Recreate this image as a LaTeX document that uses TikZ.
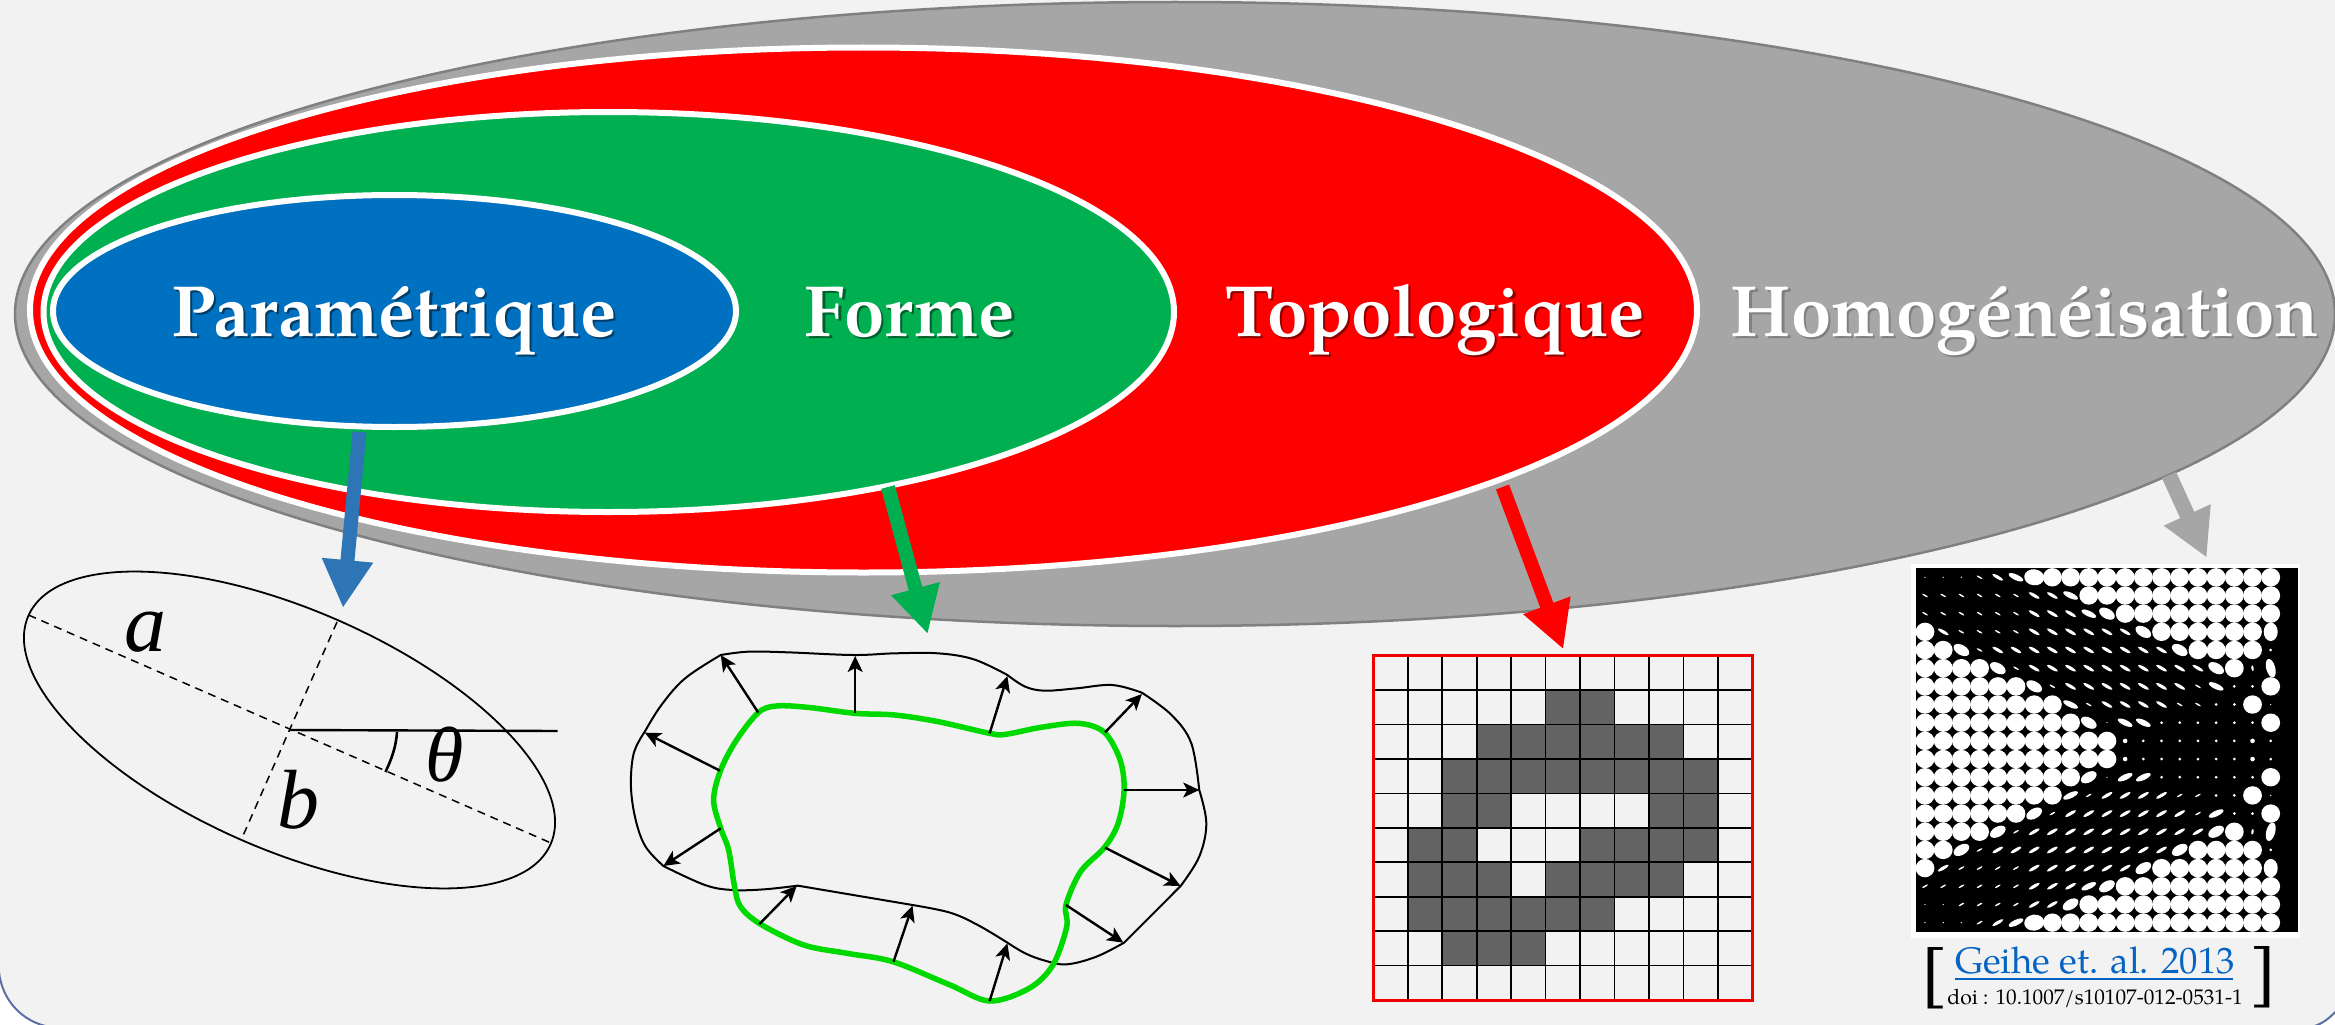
\documentclass[tikz,border=0pt]{standalone}
\usepackage{fontspec}
\setmainfont{TeX Gyre Pagella}
\newfontfamily\symfont[ItalicFont=Liberation Serif Italic]{Liberation Serif}
\usetikzlibrary{shapes.geometric,arrows.meta}
\definecolor{bgc}{HTML}{F2F2F2}
\definecolor{grayc}{HTML}{A6A6A6}
\definecolor{redc}{HTML}{FF0000}
\definecolor{greenc}{HTML}{00B050}
\definecolor{bluec}{HTML}{0070C0}
\definecolor{barrow}{HTML}{2E75B6}
\definecolor{linkc}{HTML}{0563C1}
\definecolor{contour}{HTML}{00D900}
\definecolor{cellc}{HTML}{636363}
\definecolor{gridred}{HTML}{EE0000}
\definecolor{slideedge}{HTML}{5B6FA5}
\newcommand{\shtxt}[2]{\makebox[0pt][l]{\raisebox{-2.2pt}{\hspace{2.2pt}\textcolor{#1}{#2}}}#2}
\tikzset{
  zone/.style={ellipse,draw=white,line width=6pt,inner sep=0pt,outer sep=0pt},
  zlabel/.style={text=white,font=\fontsize{72.5}{72.5}\selectfont\bfseries,inner sep=0pt,anchor=base},
  hz/.style={x radius=.7pt,y radius=.7pt},
  hd/.style={x radius=1.5pt,y radius=1.5pt},
  hD/.style={x radius=2.3pt,y radius=2.3pt},
  hO/.style={x radius=9.4pt,y radius=9.2pt},
  hQ/.style={x radius=10pt,y radius=8pt,rotate=\hs*8},
  hL/.style={x radius=8.6pt,y radius=5pt,rotate=\hs*30},
  hM/.style={x radius=8pt,y radius=2.8pt,rotate=\hs*25},
  hS/.style={x radius=6.3pt,y radius=1.6pt,rotate=\hs*30},
  hT/.style={x radius=3.3pt,y radius=.8pt,rotate=\hs*30},
  hV/.style={x radius=4.5pt,y radius=9.5pt,rotate=0-\hs*15},
  hP/.style={x radius=7pt,y radius=9.2pt},
  hv/.style={x radius=1.2pt,y radius=2.8pt,rotate=0-\hs*10},
  symb/.style={font=\fontsize{84}{84}\selectfont\symfont\itshape,inner sep=0pt,anchor=base},
  nrm/.style={line width=2.4pt,black,-{Stealth[length=16pt,width=15pt,inset=4pt]}},
}
\begin{document}
\begin{tikzpicture}[x=1pt,y=-1pt]
\useasboundingbox (0,0) rectangle (2335,1025);
% slide background with its two visible rounded corners
\fill[bgc] (0,0) rectangle (2335,1025);
\fill[white] (-1,972) .. controls (2,1000) and (22,1022) .. (50,1027) -- (-1,1027) -- cycle;
\draw[slideedge,line width=2pt] (-1,972) .. controls (2,1000) and (22,1022) .. (50,1027);
\fill[white] (2313,1026.5) .. controls (2322,1024) and (2330,1018) .. (2337,1010) -- (2337,1027) -- cycle;
\draw[slideedge,line width=2pt] (2313,1026.5) .. controls (2322,1024) and (2330,1018) .. (2337,1010);
% nested zones
\node[ellipse,draw=gray,fill=grayc,line width=2.5pt,inner sep=0pt,outer sep=0pt,minimum width=2320pt,minimum height=624pt] (hom) at (1175,314) {};
\node[zone,fill=redc,minimum width=1667pt,minimum height=525pt] (top) at (863.5,310) {};
\node[zone,fill=greenc,minimum width=1130.5pt,minimum height=400pt] (for) at (608.75,312) {};
\node[zone,fill=bluec,minimum width=683pt,minimum height=232pt] (par) at (394.5,311) {};
\node[zlabel] (lpar) at (394,336) {\shtxt{bluec!55!black}{Paramétrique}};
\node[zlabel] (lfor) at (910,336) {\shtxt{greenc!55!black}{Forme}};
\node[zlabel] (ltop) at (1435,336) {\shtxt{redc!55!black}{Topologique}};
\node[zlabel] (lhom) at (2025,336) {\shtxt{black!50}{Homogénéisation}};
% ellipse figure
\coordinate (ec) at (289.5,730);
\draw[line width=1.8pt,rotate around={-23.6:(ec)}] (ec) ellipse [x radius=285pt,y radius=120pt];
\coordinate (ma1) at (28.5,615);
\coordinate (ma2) at (551,843);
\coordinate (mi1) at (337,622);
\coordinate (mi2) at (242,838);
\coordinate (hz) at (557.5,731);
\draw[line width=1.5pt,dash pattern=on 8pt off 6pt] (ma1) -- (ma2);
\draw[line width=1.5pt,dash pattern=on 8pt off 6pt] (mi1) -- (mi2);
\draw[line width=2.4pt] (ec) -- (hz);
\draw[line width=2.6pt] (397,732) .. controls (396,748) and (391,760) .. (385.5,772);
\node[symb] (sa) at (145,651) {a};
\node[symb] (sb) at (298,828) {b};
\node[symb,font=\fontsize{78}{78}\selectfont\symfont\itshape] (st) at (445,781) {θ};
% shape figure
\begin{scope}[shift={(610,620)},x=.39545pt,y=-.33333pt]
\draw[line width=2pt,line join=round,line cap=round]
 plot[smooth,tension=.6] coordinates {(280,105) (350,95) (450,97) (615,105) (720,100) (830,100) (920,118) (1005,165)}
 plot[smooth,tension=.6] coordinates {(1005,165) (1050,200) (1100,212) (1180,205) (1270,195) (1345,218)}
 plot[smooth,tension=.6] coordinates {(1345,218) (1420,285) (1470,370) (1490,510)}
 plot[smooth,tension=.6] coordinates {(1490,510) (1508,610) (1490,710) (1443,798)}
 -- (1300,968)
 plot[smooth,tension=.6] coordinates {(1300,968) (1230,1010) (1155,1033) (1100,1022) (1050,1000) (1005,968)}
 plot[smooth,tension=.6] coordinates {(1005,968) (930,915) (860,878) (765,855)}
 -- (475,797)
 plot[smooth,tension=.6] coordinates {(475,797) (390,808) (310,810) (240,795) (135,738)}
 plot[smooth,tension=.6] coordinates {(135,738) (90,680) (65,600) (53,500) (60,400) (88,335)}
 plot[smooth,tension=.6] coordinates {(88,335) (130,255) (190,175) (280,105)};
\draw[contour,line width=5.5pt]
 plot[smooth cycle,tension=.55] coordinates {(375,278) (420,258) (500,262) (620,280) (720,285) (830,305) (960,340) (1000,343) (1090,322) (1185,310) (1250,337) (1290,420) (1300,510) (1285,610) (1250,683) (1190,755) (1153,855) (1155,920) (1120,1035) (1060,1105) (960,1143) (860,1095) (715,1025) (600,1000) (490,975) (380,912) (330,860) (315,800) (300,690) (280,625) (262,540) (280,450) (320,360)};
\foreach \a/\b/\c/\d [count=\n] in {375/278/280/105,620/278/620/108,960/340/1005/168,1252/337/1345/222,1300/510/1490/510,1252/683/1443/798,1153/855/1298/968,960/1143/1005/970,717/1025/765/857,378/912/472/798,280/625/135/738,278/452/88/338}{
  \coordinate (ns\n) at (\a,\b);
  \coordinate (ne\n) at (\c,\d);
  \draw[nrm] (ns\n) -- (ne\n);
}
\end{scope}
% topology grid
\begin{scope}[shift={(1373.3,655.7)},x=34.45pt,y=-34.43pt]
\foreach \r/\cols in {1/{5,6},2/{3,4,5,6,7,8},3/{2,3,4,5,6,7,8,9},4/{2,3,8,9},5/{1,2,6,7,8,9},6/{1,2,3,5,6,7,8},7/{1,2,3,4,5,6},8/{2,3,4}}{
  \foreach \c in \cols { \fill[cellc] (\c,\r) rectangle ++(1,1); }
}
\foreach \i in {1,...,10}{ \draw[line width=1.7pt] (\i,0) -- (\i,10); }
\foreach \j in {1,...,9}{ \draw[line width=1.7pt] (0,\j) -- (11,\j); }
\draw[gridred,line width=3pt] (0,0) rectangle (11,10);
\end{scope}
% homogenisation picture
\fill[white] (1911,564) rectangle (2300,938);
\fill[black] (1915.7,568.3) rectangle (2297.7,932.3);
\def\Ra{z,z,z,T,S,M,Q,O,O,O,O,O,O,O,O,O,O,O,O,O}
\def\Rb{T,T,T,T,T,T,S,S,M,O,O,O,O,O,O,O,O,O,O,O}
\def\Rbb{z,z,T,T,T,T,S,S,L,O,O,O,O,O,O,O,O,O,O,O}
\def\Rc{T,T,T,T,T,T,S,S,S,M,L,O,O,O,O,O,O,O,O,O}
\def\Rd{O,S,T,T,T,T,S,S,S,S,S,S,L,O,O,O,O,O,O,P}
\def\Re{O,O,L,T,S,S,S,S,S,S,S,S,S,S,L,O,O,O,O,d}
\def\Rf{O,O,O,O,L,T,S,S,S,S,S,S,S,S,S,S,L,O,v,V}
\def\Rg{O,O,O,O,O,O,L,T,S,S,S,S,S,S,S,T,M,d,d,O}
\def\Rh{O,O,O,O,O,O,O,O,M,T,S,S,S,S,T,T,d,d,O,z}
\def\Ri{O,O,O,O,O,O,O,O,O,L,z,M,M,d,d,d,d,d,d,O}
\def\Rj{O,O,O,O,O,O,O,O,O,O,O,D,d,d,d,d,d,d,D,d}
\foreach \rr/\sg/\rw in {0/-1/\Ra,1/-1/\Rb,2/-1/\Rc,3/-1/\Rd,4/-1/\Re,5/-1/\Rf,6/-1/\Rg,7/-1/\Rh,8/-1/\Ri,9/-1/\Rj,10/1/\Rj,11/1/\Ri,12/1/\Rh,13/1/\Rg,14/1/\Rf,15/1/\Re,16/1/\Rd,17/1/\Rc,18/1/\Rbb,19/1/\Ra}{
  \def\hs{\sg}
  \edef\rowlist{\rw}
  \foreach \t [count=\c from 0] in \rowlist {
    \fill[white] ({1925+18.195*\c},{577.3+18.175*\rr}) ellipse [h\t];
  }
}
% citation
\node[inner sep=0pt,anchor=base,text=linkc,font=\fontsize{36.8}{36.8}\selectfont] (cite) at (2095,973) {\makebox[0pt][l]{\rule[-7pt]{278pt}{2pt}}Geihe et. al. 2013};
\node[inner sep=0pt,anchor=base,font=\fontsize{21.2}{21.2}\selectfont] (doi) at (2095,1004) {doi : 10.1007/s10107-012-0531-1};
\node[inner sep=0pt,anchor=base,font=\fontsize{61}{61}\selectfont\bfseries] (bl) at (1934,993) {[};
\node[inner sep=0pt,anchor=base,font=\fontsize{61}{61}\selectfont\bfseries] (br) at (2263,992) {]};
% block arrows
\coordinate (a1s) at (359.5,432);
\coordinate (a1e) at (343,608);
\coordinate (a2s) at (888,487);
\coordinate (a2e) at (927.7,634);
\coordinate (a3s) at (1502.5,487);
\coordinate (a3e) at (1563.3,649.3);
\coordinate (a4s) at (2169,475);
\coordinate (a4e) at (2206.7,557.7);
\draw[barrow,line width=14pt,-{Triangle[length=48pt,width=48pt]}] (a1s) -- (a1e);
\draw[greenc,line width=14pt,-{Triangle[length=47pt,width=47pt]}] (a2s) -- (a2e);
\draw[redc,line width=14pt,-{Triangle[length=47pt,width=47pt]}] (a3s) -- (a3e);
\draw[grayc,line width=15.5pt,-{Triangle[length=47pt,width=48pt]}] (a4s) -- (a4e);
\end{tikzpicture}
\end{document}
